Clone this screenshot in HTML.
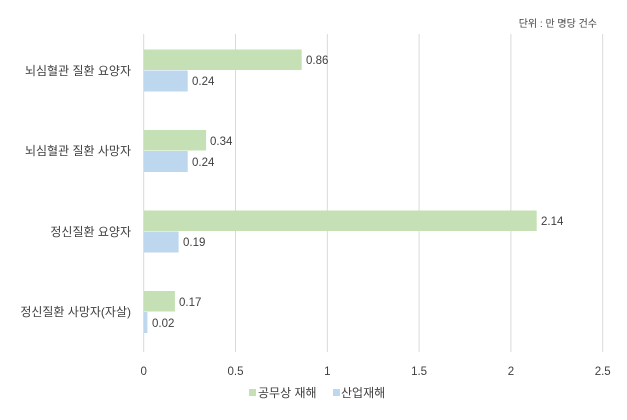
<!DOCTYPE html>
<html><head><meta charset="utf-8"><style>
body{margin:0;background:#fff}
text{font-family:"Liberation Sans","Noto Sans CJK KR",sans-serif;fill:#404040}
</style></head><body>
<svg width="627" height="415" xmlns="http://www.w3.org/2000/svg">
<rect width="627" height="415" fill="#fff"/>
<text x="597" y="27" font-size="10" text-anchor="end">단위 : 만 명당 건수</text>
<g stroke="#d9d9d9" stroke-width="1">
<line x1="143.7" y1="34" x2="143.7" y2="352"/>
<line x1="235.5" y1="34" x2="235.5" y2="352"/>
<line x1="327.3" y1="34" x2="327.3" y2="352"/>
<line x1="419.1" y1="34" x2="419.1" y2="352"/>
<line x1="510.9" y1="34" x2="510.9" y2="352"/>
<line x1="602.7" y1="34" x2="602.7" y2="352"/>
</g>
<g fill="#c5e0b4">
<rect x="143.7" y="49.5" width="158" height="20.5"/>
<rect x="143.7" y="130" width="62.4" height="20.5"/>
<rect x="143.7" y="210.5" width="393" height="20.5"/>
<rect x="143.7" y="291" width="31.2" height="20.5"/>
</g>
<g fill="#bdd7ee">
<rect x="143.7" y="70.5" width="44" height="21"/>
<rect x="143.7" y="151" width="44" height="21"/>
<rect x="143.7" y="231.5" width="34.9" height="21"/>
<rect x="143.7" y="312" width="3.7" height="21"/>
</g>
<g font-size="11.5">
<text x="306" y="64">0.86</text>
<text x="192" y="85">0.24</text>
<text x="210" y="145">0.34</text>
<text x="192" y="166">0.24</text>
<text x="541" y="225">2.14</text>
<text x="183" y="246">0.19</text>
<text x="179" y="306">0.17</text>
<text x="152" y="327">0.02</text>
</g>
<g font-size="12" text-anchor="end">
<text x="131" y="75">뇌심혈관 질환 요양자</text>
<text x="131" y="155">뇌심혈관 질환 사망자</text>
<text x="131" y="236">정신질환 요양자</text>
<text x="131" y="316">정신질환 사망자(자살)</text>
</g>
<g font-size="11.5" text-anchor="middle">
<text x="143.7" y="375">0</text>
<text x="235.5" y="375">0.5</text>
<text x="327.3" y="375">1</text>
<text x="419.1" y="375">1.5</text>
<text x="510.9" y="375">2</text>
<text x="602.7" y="375">2.5</text>
</g>
<rect x="249" y="389" width="7" height="7" fill="#c5e0b4"/>
<text x="258" y="397" font-size="12">공무상 재해</text>
<rect x="333" y="389" width="7" height="7" fill="#bdd7ee"/>
<text x="341" y="397" font-size="12">산업재해</text>
</svg>
</body></html>
